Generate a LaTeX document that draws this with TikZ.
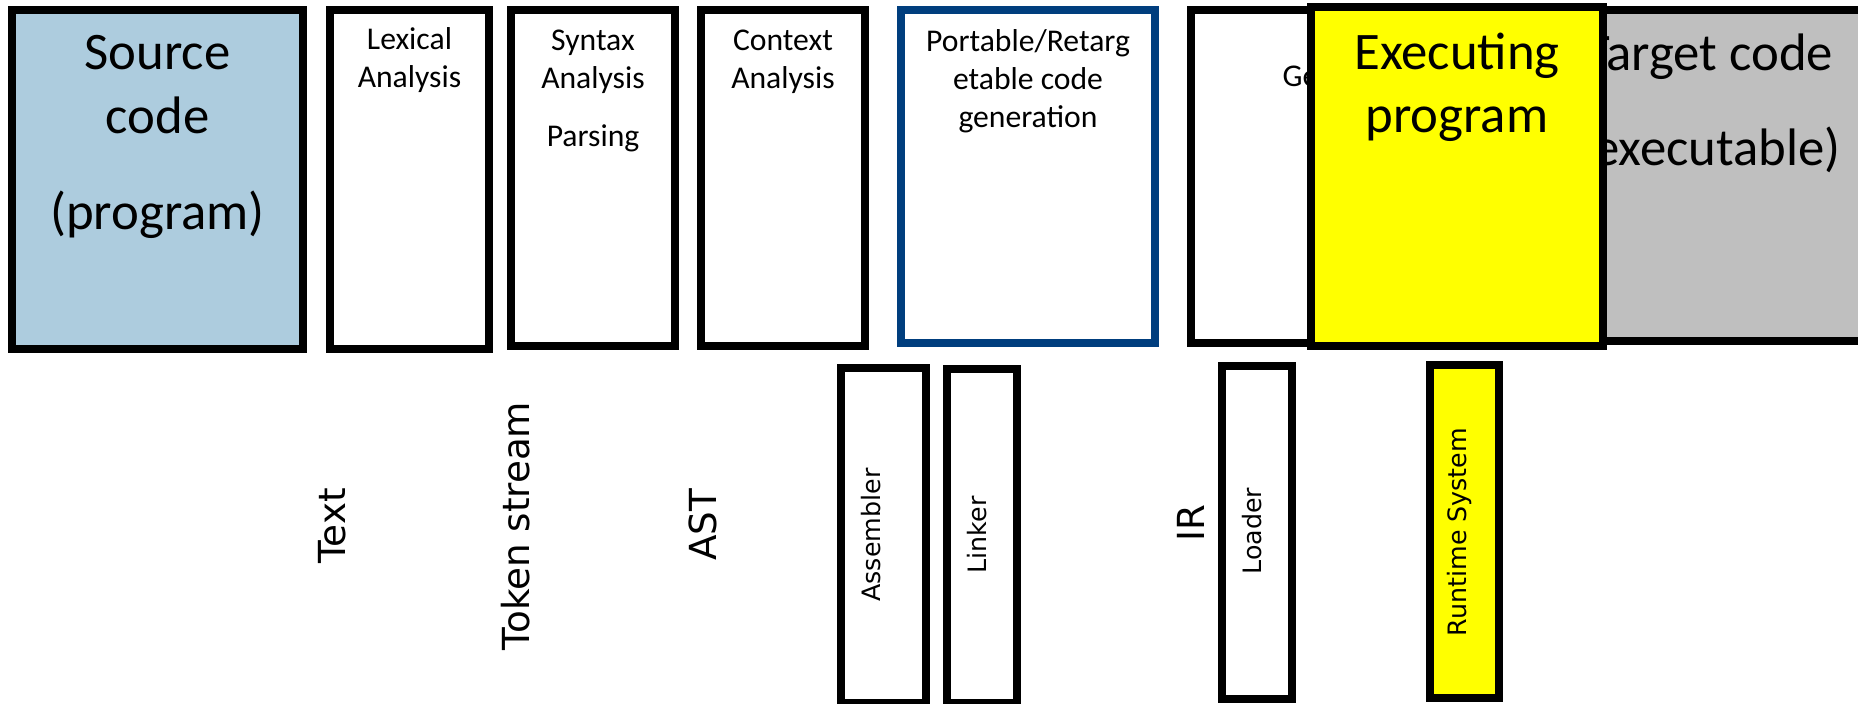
\documentclass[tikz,border=0pt]{standalone}
\usepackage{fontspec}
\setmainfont{Carlito}
\newfontfamily\dejavu{DejaVu Sans}
\usepackage{tikz}
\usetikzlibrary{positioning}
\definecolor{csrc}{RGB}{173,204,222}
\definecolor{cport}{RGB}{0,62,126}
\definecolor{ctarget}{RGB}{191,191,191}
\definecolor{crun}{RGB}{255,255,0}

\begin{document}
\begin{tikzpicture}[x=0.01cm, y=-0.01cm,
  stage/.style={draw=black, line width=0.08cm, fill=white, inner sep=0pt, outer sep=0pt,
                minimum height=3.39cm},
  tool/.style={stage, minimum height=3.30cm},
  big/.style={font=\fontsize{15}{18}\selectfont, align=center, inner sep=0pt},
  mid/.style={font=\fontsize{9}{10.8}\selectfont, align=center, inner sep=0pt},
  vlab/.style={font=\dejavu\fontsize{10.6}{12}\selectfont, rotate=90, inner sep=0pt},
  vsmall/.style={font=\dejavu\fontsize{7.2}{8.6}\selectfont, rotate=90, inner sep=0pt}]
\useasboundingbox (0,0) rectangle (1858,703);
\clip (0,0) rectangle (1858,703);
\node[stage, fill=csrc, minimum width=2.91cm] (src) at (157.5,179.5) {};
\node[big, below=0.25cm of src.north] (srctxt) {Source\\code\\[9.5pt](program)};
\node[stage, minimum width=1.59cm] (lex) at (409.5,179.5) {};
\node[mid, below=0.17cm of lex.north] (lextxt) {Lexical\\Analysis};
\node[stage, minimum width=1.64cm, minimum height=3.36cm] (syn) at (593,178) {};
\node[mid, below=0.19cm of syn.north] (syntxt) {Syntax\\Analysis\\[5.7pt]Parsing};
\node[stage, minimum width=1.64cm, minimum height=3.36cm] (ctx) at (783,178) {};
\node[mid, below=0.19cm of ctx.north] (ctxtxt) {Context\\Analysis};
\node[stage, draw=cport, minimum width=2.54cm, minimum height=3.33cm] (port) at (1028,176.5) {};
\node[mid, below=0.19cm of port.north] (porttxt) {Portable/Retarg\\etable code\\generation};
\node[stage, minimum width=3.19cm, minimum height=3.33cm] (gen) at (1350.5,176.5) {};
\node[mid, anchor=base west] (gentxt) at (1282,87) {Ge};
\node[stage, fill=ctarget, minimum width=5.06cm, minimum height=3.31cm] (tgt) at (1709,175.5) {};
\node[big, below=0.23cm of tgt.north] (tgttxt) {Target code\\[9pt](executable)};
\node[stage, fill=crun, minimum width=2.92cm] (exe) at (1457,176.5) {};
\node[big, below=0.25cm of exe.north] (exetxt) {Executing\\program};

\node[vlab] (txtlab) at (332,526) {Text};
\node[vlab] (toklab) at (516,526) {Token stream};
\node[vlab] (astlab) at (703,525) {AST};
\node[vlab] (irlab) at (1191,523) {IR};
\node[tool, minimum width=0.85cm, minimum height=3.35cm] (asm) at (883.5,535.5) {};
\node[vsmall] (asmtxt) at (871,535) {Assembler};
\node[tool, minimum width=0.70cm, minimum height=3.34cm] (lnk) at (982,536) {};
\node[vsmall] (lnktxt) at (977,535) {Linker};
\node[tool, minimum width=0.70cm, minimum height=3.33cm] (ldr) at (1257,532.5) {};
\node[vsmall] (ldrtxt) at (1252,531) {Loader};
\node[tool, fill=crun, minimum width=0.69cm, minimum height=3.33cm] (rts) at (1464.5,531.5) {};
\node[vsmall] (rtstxt) at (1459,532) {Runtime System};
\end{tikzpicture}
\end{document}
